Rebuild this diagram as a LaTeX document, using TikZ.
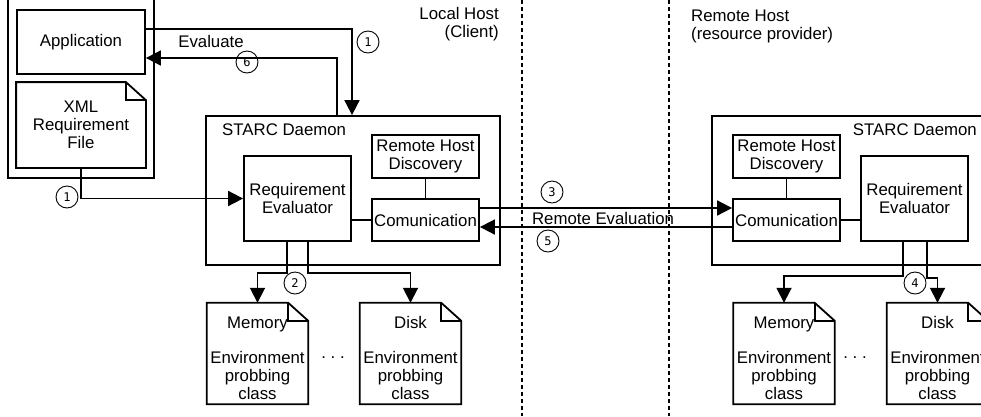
\documentclass[tikz,border=0pt]{standalone}
\usepackage{fontspec}
\setmainfont{Liberation Sans}
\newfontfamily\numfont{DejaVu Sans Mono}
\usetikzlibrary{arrows.meta}

% outline of a page with a folded top-right corner, drawn around a named node
\newcommand\docoutline[1]{%
  \draw[boxline] (#1.north west) -- ([xshift=-20pt]#1.north east)
    -- ([yshift=-18pt]#1.north east) -- (#1.south east) -- (#1.south west) -- cycle;
  \draw[boxline] ([xshift=-20pt]#1.north east) |- ([yshift=-18pt]#1.north east);}

\begin{document}
\begin{tikzpicture}[x=1pt,y=-1pt,
  font=\fontsize{16.8pt}{18pt}\selectfont,
  boxline/.style={line width=1.8pt},
  box/.style={draw,boxline,rectangle,inner sep=0pt,align=center},
  docbox/.style={rectangle,inner sep=0pt,minimum width=101pt,minimum height=101pt},
  doctext/.style={align=center,inner sep=0pt},
  conn/.style={line width=1.8pt},
  arr/.style={conn,-{Triangle[length=15pt,width=15pt]}},
  numc/.style={circle,draw,line width=0.9pt,inner sep=0pt,minimum size=22pt,
    font=\numfont\fontsize{12pt}{12pt}\selectfont},
  sep/.style={line width=1.8pt,dash pattern=on 4pt off 3pt},
  lbl/.style={inner sep=0pt}]

\useasboundingbox (0,0) rectangle (981,416);
\fill[white] (0,0) rectangle (981,416);
\clip (0,0) rectangle (981,416);

% host separators
\coordinate (s1t) at (522,0);   \coordinate (s1b) at (522,416);
\coordinate (s2t) at (669,0);   \coordinate (s2b) at (669,416);
\draw[sep] (s1t) -- (s1b);
\draw[sep] (s2t) -- (s2b);

\node[lbl,anchor=east,align=right] (lhost) at (499,24) {Local Host\\(Client)};
\node[lbl,anchor=west,align=left] (rhost) at (691,26) {Remote Host\\(resource provider)};

% client side
\node[box,minimum width=146pt,minimum height=186pt] (outer) at (81,85) {};
\node[box,minimum width=128pt,minimum height=64pt] (app) at (81,42) {Application};
\node[box,draw=none,minimum width=128pt,minimum height=84pt] (xml) at (81,125)
  {XML\\Requirement\\File};
\docoutline{xml}

% local daemon
\node[box,minimum width=294pt,minimum height=149pt] (dL) at (353,190.5) {};
\node[lbl,anchor=west] (dLt) at (222,130) {STARC Daemon};
\node[box,minimum width=107pt,minimum height=85pt] (reL) at (297.5,198.5)
  {Requirement\\Evaluator};
\node[box,minimum width=107pt,minimum height=43pt] (rhdL) at (425.5,156.5)
  {Remote Host\\Discovery};
\node[box,minimum width=107pt,minimum height=42pt] (comL) at (425.5,220) {Comunication};

% remote daemon
\node[box,minimum width=290pt,minimum height=149pt] (dR) at (857,190.5) {};
\node[lbl,anchor=east] (dRt) at (977,130) {STARC Daemon};
\node[box,minimum width=107pt,minimum height=43pt] (rhdR) at (786.5,156.5)
  {Remote Host\\Discovery};
\node[box,minimum width=107pt,minimum height=42pt] (comR) at (786.5,220) {Comunication};
\node[box,minimum width=107pt,minimum height=85pt] (reR) at (914.5,198.5)
  {Requirement\\Evaluator};

% environment probing classes
\node[docbox] (memL) at (257.5,353.5) {};
\node[docbox] (diskL) at (410.5,353.5) {};
\node[docbox] (memR) at (784,353.5) {};
\node[docbox] (diskR) at (937.5,353.5) {};
\docoutline{memL}
\docoutline{diskL}
\docoutline{memR}
\docoutline{diskR}
\node[doctext] (memLt) at ([yshift=-4.5pt]memL.center) {Memory\\[17pt]Environment\\probbing\\class};
\node[doctext] (diskLt) at ([yshift=-4.5pt]diskL.center) {Disk\\[17pt]Environment\\probbing\\class};
\node[doctext] (memRt) at ([yshift=-4.5pt]memR.center) {Memory\\[17pt]Environment\\probbing\\class};
\node[doctext] (diskRt) at ([yshift=-4.5pt]diskR.center) {Disk\\[17pt]Environment\\probbing\\class};
\node[lbl] (dotsL) at (333,358) {.\ .\ .};
\node[lbl] (dotsR) at (855,358) {.\ .\ .};

% connectors on the client side
\draw[arr] ([yshift=13pt]app.east) -| ([xshift=-1pt]dL.north);
\draw[arr] ([xshift=-16pt]dL.north) |- ([yshift=-16pt]app.east);
\node[lbl] (evl) at (211,41) {Evaluate};
\node[numc] (n1a) at (368,42) {1};
\node[numc] (n6) at (247,62) {6};

\draw[arr] (xml.south) |- (reL.west);
\node[numc] (n1b) at (67,197) {1};

\draw[conn] (rhdL.south) -- (comL.north);
\draw[conn] (reL.east |- comL.west) -- (comL.west);

\draw[arr] ([xshift=-10.5pt]reL.south) -- ++(0,31) -| (memL.north);
\draw[arr] ([xshift=10.5pt]reL.south) -- ++(0,31) -| (diskL.north);
\node[numc] (n2) at (295,283) {2};

% remote evaluation
\draw[arr] ([yshift=12pt]comL.east) -- ([yshift=12pt]comR.west);
\draw[arr] ([yshift=-7pt]comR.west) -- ([yshift=-7pt]comL.east);
\node[lbl] (rev) at (603,218) {Remote Evaluation};
\node[numc] (n3) at (552,192) {3};
\node[numc] (n5) at (548,241) {5};

% connectors on the remote side
\draw[conn] (rhdR.south) -- (comR.north);
\draw[conn] (comR.east) -- (comR.east -| reR.west);
\draw[arr] ([xshift=-11.5pt]reR.south) -- ++(0,34) -| (memR.north);
\draw[arr] ([xshift=12.5pt]reR.south) -- ++(0,36) -| (diskR.north);
\node[numc] (n4) at (915,283) {4};

\end{tikzpicture}
\end{document}
